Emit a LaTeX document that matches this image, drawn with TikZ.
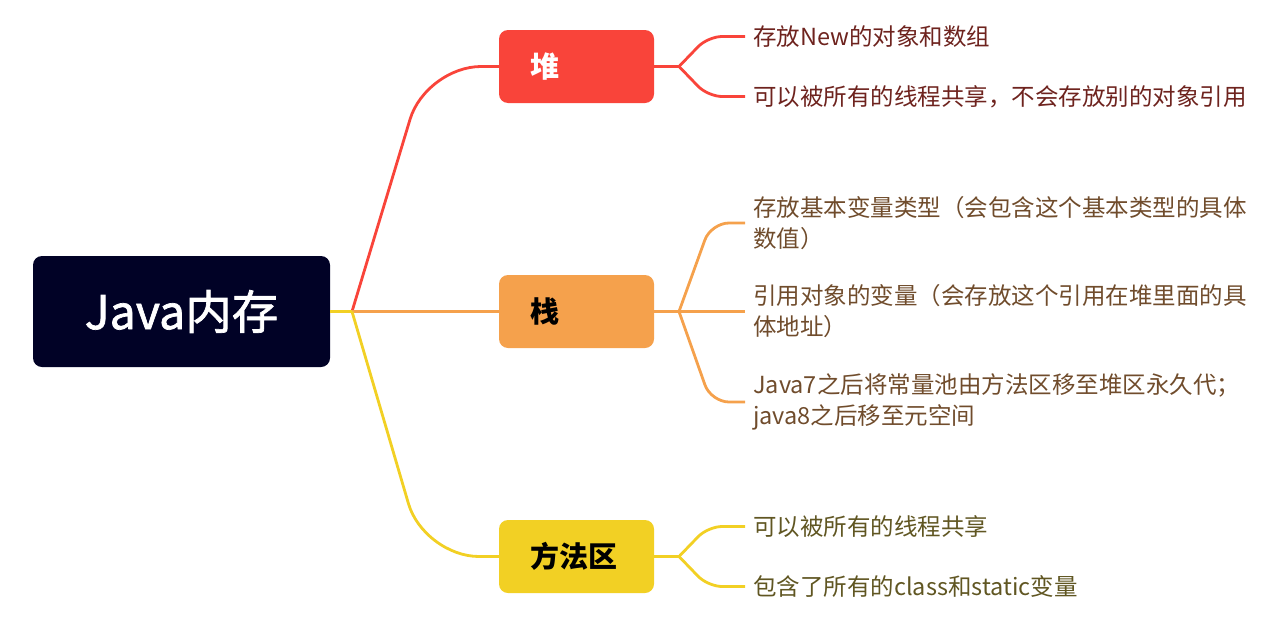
\documentclass[tikz,border=0pt]{standalone}
\usepackage{fontspec}
\setmainfont{Noto Sans CJK SC}
\newfontface\rootface{Noto Sans CJK SC}[FakeBold=1.5]
\definecolor{rootc}{RGB}{1,2,38}
\definecolor{heapc}{RGB}{249,68,58}
\definecolor{stackc}{RGB}{245,161,76}
\definecolor{methc}{RGB}{242,208,36}
\definecolor{heapt}{RGB}{110,35,30}
\definecolor{stackt}{RGB}{112,76,44}
\definecolor{metht}{RGB}{96,86,34}
\begin{document}
\begin{tikzpicture}[x=1pt,y=-1pt,
 rootbox/.style={fill=rootc, rounded corners=9pt, minimum width=297pt, minimum height=111pt, text=white, font=\rootface\fontsize{46.5}{54}\selectfont, inner sep=0pt},
 branch/.style={rounded corners=9pt, minimum height=73pt, inner xsep=31pt, inner ysep=0pt, text width=93pt, align=left, font=\bfseries\fontsize{29}{34}\selectfont},
 leaf/.style={anchor=west, inner xsep=8pt, inner ysep=2pt, align=left, font=\fontsize{23.5}{31}\selectfont},
 conn/.style={line width=2.8pt}]
\useasboundingbox (0,0) rectangle (1280,624);
\node[rootbox] (root) at (181.5,311.5) {Java内存};
\node[branch, fill=heapc, text=white] (heap) at (576.5,66.5) {堆};
\node[branch, fill=stackc, text=black] (stack) at (576.5,311.5) {栈};
\node[branch, fill=methc, text=black] (meth) at (576.5,556.5) {方法区};
\coordinate (rb) at (352,311.5);
\coordinate (rcH) at (426,66.5);
\coordinate (rcM) at (424,556.5);
\coordinate (hs) at (679,66.5);
\coordinate (ss) at (679,311.5);
\coordinate (ms) at (679,556.5);
\coordinate (hc1) at (708,36.5);
\coordinate (hc2) at (708,96.5);
\coordinate (sc1) at (711,223);
\coordinate (sc3) at (711,402);
\coordinate (mc1) at (708,526.5);
\coordinate (mc2) at (708,586.5);
\node[leaf, text=heapt] (h1) at (745,36.5) {存放New的对象和数组};
\node[leaf, text=heapt] (h2) at (745,96.5) {可以被所有的线程共享，不会存放别的对象引用};
\node[leaf, text=stackt] (s1) at (745,223) {存放基本变量类型（会包含这个基本类型的具体\\数值）};
\node[leaf, text=stackt] (s2) at (745,311.5) {引用对象的变量（会存放这个引用在堆里面的具\\体地址）};
\node[leaf, text=stackt] (s3) at (745,402) {Java7之后将常量池由方法区移至堆区永久代；\\java8之后移至元空间};
\node[leaf, text=metht] (m1) at (745,526.5) {可以被所有的线程共享};
\node[leaf, text=metht] (m2) at (745,586.5) {包含了所有的class和static变量};
\draw[conn, heapc, rounded corners=55pt] (rb) -- (rcH) -- (heap.west);
\draw[conn, stackc] (rb) -- (stack.west);
\draw[conn, methc, rounded corners=55pt] (rb) -- (rcM) -- (meth.west);
\draw[conn, methc] (root.east) -- (rb);
\draw[conn, heapc] (heap.east) -- (hs);
\draw[conn, heapc, rounded corners=14pt] (hs) -- (hc1) -- (h1.west);
\draw[conn, heapc, rounded corners=14pt] (hs) -- (hc2) -- (h2.west);
\draw[conn, stackc] (stack.east) -- (ss);
\draw[conn, stackc, rounded corners=18pt] (ss) -- (sc1) -- (s1.west);
\draw[conn, stackc] (ss) -- (s2.west);
\draw[conn, stackc, rounded corners=18pt] (ss) -- (sc3) -- (s3.west);
\draw[conn, methc] (meth.east) -- (ms);
\draw[conn, methc, rounded corners=14pt] (ms) -- (mc1) -- (m1.west);
\draw[conn, methc, rounded corners=14pt] (ms) -- (mc2) -- (m2.west);
\end{tikzpicture}
\end{document}
